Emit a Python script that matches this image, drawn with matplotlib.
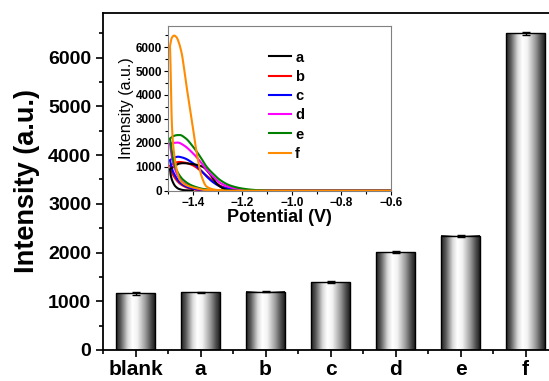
import numpy as np
import matplotlib.pyplot as plt
from matplotlib.colors import LinearSegmentedColormap
from matplotlib.ticker import MultipleLocator

plt.rcParams['font.family'] = ['Liberation Sans', 'DejaVu Sans']

# bar chart data
categories = ['blank', 'a', 'b', 'c', 'd', 'e', 'f']
intensity = [1160, 1180, 1200, 1390, 2010, 2340, 6500]
errors = [40, 5, 15, 25, 30, 20, 30]

# inset curves: upper (return) branch and lower branch
up_x = {
    'a': [-1.492, -1.475, -1.455, -1.44, -1.40, -1.36, -1.33, -1.30, -1.27, -1.24, -0.6],
    'b': [-1.492, -1.475, -1.455, -1.43, -1.40, -1.37, -1.344, -1.315, -1.29, -1.25, -1.2, -1.15, -0.6],
    'c': [-1.492, -1.475, -1.46, -1.44, -1.399, -1.37, -1.344, -1.315, -1.29, -1.25, -1.2, -1.15, -0.6],
    'd': [-1.492, -1.475, -1.46, -1.44, -1.399, -1.37, -1.344, -1.315, -1.29, -1.25, -1.2, -1.15, -1.1, -0.6],
    'e': [-1.492, -1.48, -1.465, -1.452, -1.43, -1.399, -1.37, -1.344, -1.315, -1.29, -1.25, -1.2, -1.15, -1.1, -1.05, -0.6],
    'f': [-1.492, -1.485, -1.475, -1.465, -1.455, -1.445, -1.425, -1.404, -1.384, -1.364, -1.344, -1.31, -1.26, -0.6],
}
up_y = {
    'a': [900, 1020, 1130, 1150, 1110, 1000, 680, 260, 60, 0, 0],
    'b': [1050, 1150, 1200, 1170, 1060, 850, 620, 390, 210, 80, 20, 0, 0],
    'c': [1280, 1380, 1420, 1380, 1150, 880, 590, 330, 180, 70, 20, 0, 0],
    'd': [1980, 2000, 2010, 1920, 1560, 1220, 870, 560, 330, 150, 50, 10, 0, 0],
    'e': [2180, 2270, 2320, 2325, 2200, 1840, 1420, 1000, 680, 447, 220, 90, 30, 8, 0, 0],
    'f': [6050, 6380, 6480, 6400, 6150, 5750, 4350, 2960, 1570, 585, 170, 40, 0, 0],
}
low_x = {
    'a': [-1.492, -1.488, -1.48, -1.47, -1.455, -1.43, -1.40],
    'b': [-1.492, -1.485, -1.475, -1.45, -1.42, -1.38, -1.33],
    'c': [-1.492, -1.485, -1.475, -1.45, -1.42, -1.38, -1.33],
    'd': [-1.492, -1.485, -1.475, -1.45, -1.42, -1.38, -1.33, -1.28],
    'e': [-1.492, -1.485, -1.479, -1.46, -1.438, -1.40, -1.35, -1.28, -1.22],
    'f': [-1.492, -1.488, -1.485, -1.479, -1.472, -1.462, -1.452, -1.43, -1.411, -1.38, -1.35, -1.28],
}
low_y = {
    'a': [900, 600, 350, 180, 70, 15, 0],
    'b': [1050, 800, 580, 280, 120, 30, 0],
    'c': [1280, 950, 700, 330, 150, 50, 0],
    'd': [1980, 1450, 1000, 450, 220, 90, 20, 0],
    'e': [2180, 1700, 1280, 750, 447, 200, 60, 10, 0],
    'f': [6050, 4500, 2960, 1900, 1280, 750, 450, 250, 170, 90, 30, 0],
}
colors = {'a': 'black', 'b': 'red', 'c': 'blue', 'd': 'magenta',
          'e': 'green', 'f': 'darkorange'}
layer = {'a': 2.6, 'b': 2.2, 'c': 2.4, 'd': 2.8, 'e': 3.0, 'f': 3.2}


def pchip(xs, ys, n=300):
    # monotone cubic (Fritsch-Carlson) so the curves do not overshoot
    xs = np.asarray(xs, float)
    ys = np.asarray(ys, float)
    h = np.diff(xs)
    d = np.diff(ys) / h
    m = np.zeros_like(ys)
    m[0], m[-1] = d[0], d[-1]
    for i in range(1, len(xs) - 1):
        if d[i - 1] * d[i] <= 0:
            m[i] = 0
        else:
            w1 = 2 * h[i] + h[i - 1]
            w2 = h[i] + 2 * h[i - 1]
            m[i] = (w1 + w2) / (w1 / d[i - 1] + w2 / d[i])
    xx = np.linspace(xs[0], xs[-1], n)
    idx = np.clip(np.searchsorted(xs, xx) - 1, 0, len(xs) - 2)
    t = (xx - xs[idx]) / h[idx]
    h00 = 2 * t ** 3 - 3 * t ** 2 + 1
    h10 = t ** 3 - 2 * t ** 2 + t
    h01 = -2 * t ** 3 + 3 * t ** 2
    h11 = t ** 3 - t ** 2
    yy = h00 * ys[idx] + h10 * h[idx] * m[idx] + h01 * ys[idx + 1] + h11 * h[idx] * m[idx + 1]
    return xx, yy


fig = plt.figure(figsize=(5.49, 3.81), dpi=100)
ax = fig.add_axes([103 / 549, 31 / 381, 455 / 549, 337.3 / 381])

# gradient for the bars
cmap = LinearSegmentedColormap.from_list('bar', [
    (0.0, (0.12, 0.12, 0.12)), (0.12, (0.35, 0.35, 0.35)),
    (0.3, (0.85, 0.85, 0.85)), (0.42, (1, 1, 1)), (0.55, (0.95, 0.95, 0.95)),
    (0.75, (0.62, 0.62, 0.62)), (0.9, (0.3, 0.3, 0.3)), (1.0, (0.12, 0.12, 0.12))])
grad = np.linspace(0, 1, 256).reshape(1, -1)

x = np.arange(len(categories))
width = 0.6
for xi, h in zip(x, intensity):
    ax.imshow(grad, cmap=cmap, aspect='auto', extent=[xi - width / 2, xi + width / 2, 0, h],
              zorder=1, interpolation='bilinear')
ax.bar(x, intensity, width=width, facecolor='none', edgecolor='black', linewidth=1.0, zorder=2)
ax.errorbar(x, intensity, yerr=errors, fmt='none', ecolor='black', capsize=3,
            elinewidth=1, capthick=1, zorder=3)

ax.set_xlim(-0.5, 6.5)
ax.set_ylim(0, 6920)
ax.set_aspect('auto')
ax.set_xticks(x)
ax.set_xticklabels(categories, fontsize=15, fontweight='bold')
ax.xaxis.set_minor_locator(MultipleLocator(0.5))
ax.yaxis.set_major_locator(MultipleLocator(1000))
ax.yaxis.set_minor_locator(MultipleLocator(500))
for lab in ax.get_yticklabels():
    lab.set_fontsize(14)
    lab.set_fontweight('bold')
ax.tick_params(which='both', direction='out', width=1.2)
ax.tick_params(which='major', length=5)
ax.tick_params(which='minor', length=3)
ax.tick_params(axis='x', pad=2)
ax.tick_params(top=False, right=False)
for s in ax.spines.values():
    s.set_linewidth(1.3)
ax.set_ylabel('Intensity (a.u.)', fontsize=19.5, fontweight='bold', labelpad=6)

# inset
ins = fig.add_axes([168 / 549, 190.3 / 381, 223 / 549, 164.7 / 381])
for k in colors:
    ux, uy = pchip(up_x[k], up_y[k])
    lx, ly = pchip(low_x[k], low_y[k])
    ins.plot(np.concatenate([lx[::-1], ux]), np.concatenate([ly[::-1], uy]),
             color=colors[k], lw=1.5, label=k, zorder=layer[k])
ins.set_xlim(-1.5, -0.6)
ins.set_ylim(0, 6880)
ins.xaxis.set_major_locator(MultipleLocator(0.2))
ins.xaxis.set_minor_locator(MultipleLocator(0.1))
ins.yaxis.set_major_locator(MultipleLocator(1000))
ins.yaxis.set_minor_locator(MultipleLocator(500))
ins.tick_params(which='both', direction='out', labelsize=8.5, width=0.8, pad=1.5)
ins.tick_params(which='major', length=3)
ins.tick_params(which='minor', length=2)
for lab in ins.get_xticklabels() + ins.get_yticklabels():
    lab.set_fontweight('bold')
for s in ins.spines.values():
    s.set_color('#808080')
    s.set_linewidth(0.8)
ins.set_xlabel('Potential (V)', fontsize=13, fontweight='bold', labelpad=0)
ins.set_ylabel('Intensity (a.u.)', fontsize=11.5, labelpad=1)
ins.legend(loc='upper left', bbox_to_anchor=(0.42, 0.895), frameon=False,
           prop={'weight': 'bold', 'size': 10.5}, handlelength=1.5,
           handletextpad=0.3, labelspacing=0.36, borderpad=0)

fig.savefig('out.png', dpi=100)
